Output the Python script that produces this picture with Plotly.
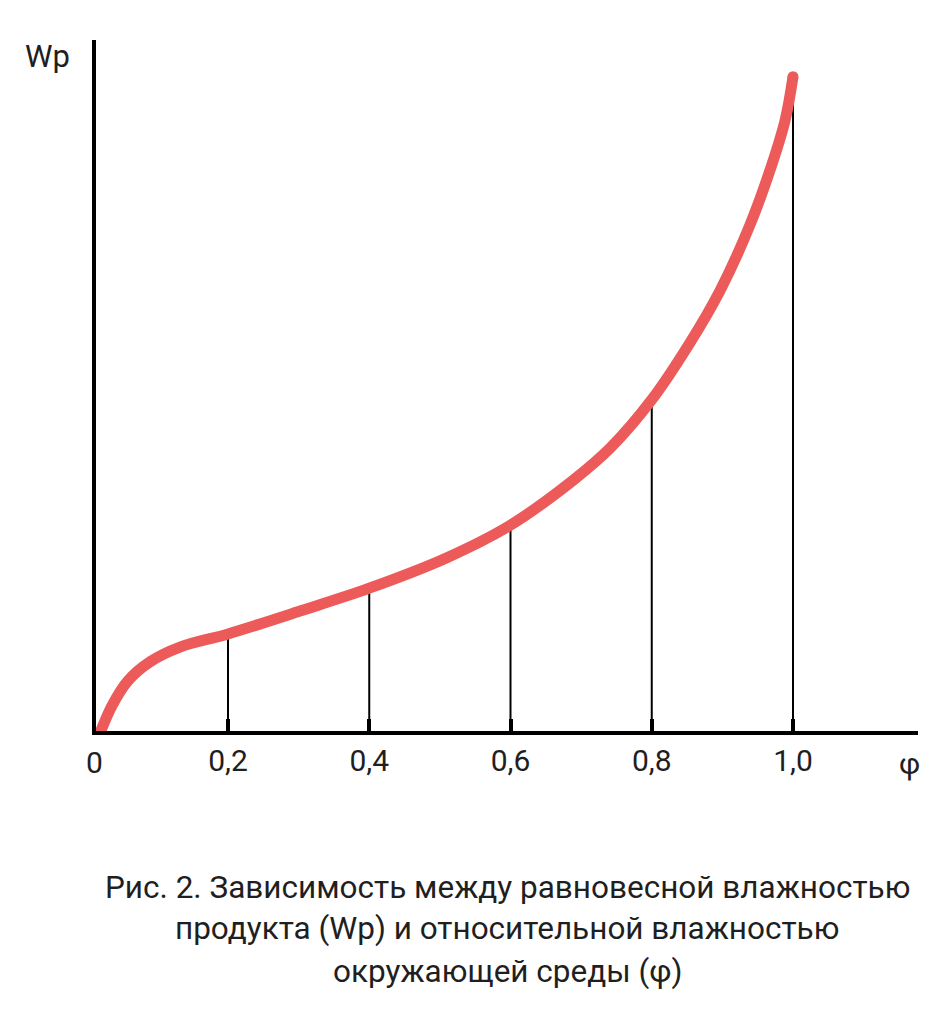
import plotly.graph_objects as go

# Relative humidity (phi) and equilibrium moisture Wp (relative units)
phi = [0.020, 0.036, 0.058, 0.090, 0.132, 0.2, 0.302, 0.4, 0.51, 0.6, 0.689, 0.741,
       0.8, 0.854, 0.897, 0.939, 0.970, 0.989, 1.0]
wp = [0.003, 0.040, 0.075, 0.103, 0.124, 0.143, 0.176, 0.209, 0.253, 0.300, 0.365, 0.411,
      0.481, 0.563, 0.639, 0.733, 0.820, 0.885, 0.947]

# Ticks on the phi axis and the drop lines under the curve
tick_phi = [0.2, 0.4, 0.6, 0.8, 1.0]
tick_labels = ["0,2", "0,4", "0,6", "0,8", "1,0"]
drop_wp = [wp[phi.index(v)] for v in tick_phi]

caption_lines = [
    "Рис. 2. Зависимость между равновесной влажностью",
    "продукта (Wp) и относительной влажностью",
    "окружающей среды (φ)",
]

W, H = 946, 1024
OFF = 8  # the page body margin shifts the figure by this much
L, R, T, B = 96 - OFF, 28 + OFF, 40 - OFF, 293 + OFF
FONT = "Roboto"
RED = "#ED5A5A"
INK = "#1f1f1f"


def px(x):
    return (x - OFF - L) / (W - L - R)


def py(y):
    return (H - B - (y - OFF)) / (H - B - T)


fig = go.Figure()

# thin vertical lines from the axis up to the curve
xs, ys = [], []
for v, h in zip(tick_phi, drop_wp):
    xs += [v, v, None]
    ys += [0, h, None]
fig.add_trace(go.Scatter(x=xs, y=ys, mode="lines",
                         line=dict(color="black", width=2),
                         hoverinfo="skip", showlegend=False))

# the curve itself
fig.add_trace(go.Scatter(x=phi, y=wp, mode="lines",
                         line=dict(color=RED, width=11, shape="spline", smoothing=1.0),
                         showlegend=False))
# round ends of the curve
fig.add_trace(go.Scatter(x=[phi[0], phi[-1]], y=[wp[0], wp[-1]], mode="markers",
                         marker=dict(color=RED, size=11), hoverinfo="skip",
                         showlegend=False))

annotations = [
    dict(text="Wp", x=px(47), y=py(57), font=dict(size=31)),
    dict(text="0", x=px(94), y=py(762), font=dict(size=30)),
    dict(text="φ", x=px(909), y=py(763), font=dict(size=30)),
]
for i, line in enumerate(caption_lines):
    annotations.append(dict(text=line, x=px(507), y=py(887 + 42 * i),
                            font=dict(size=31.5)))
for a in annotations:
    a.update(xref="paper", yref="paper", showarrow=False,
             xanchor="center", yanchor="middle")
    a["font"].update(family=FONT, color=INK)

fig.update_layout(
    width=W, height=H,
    margin=dict(l=L, r=R, t=T, b=B),
    plot_bgcolor="white", paper_bgcolor="white",
    xaxis=dict(range=[(96 - 86.75) / 706.25, (918 - 86.75) / 706.25],
               showgrid=False, zeroline=False,
               showline=True, linewidth=4, linecolor="black",
               ticks="inside", ticklen=12, tickwidth=4, tickcolor="black",
               tickvals=tick_phi, ticktext=tick_labels,
               tickfont=dict(family=FONT, size=30, color=INK)),
    yaxis=dict(range=[2 / 693, 1.0], showgrid=False, zeroline=False,
               showline=True, linewidth=4, linecolor="black",
               showticklabels=False, ticks=""),
    annotations=annotations,
    showlegend=False,
)

fig.write_html("out.html")
